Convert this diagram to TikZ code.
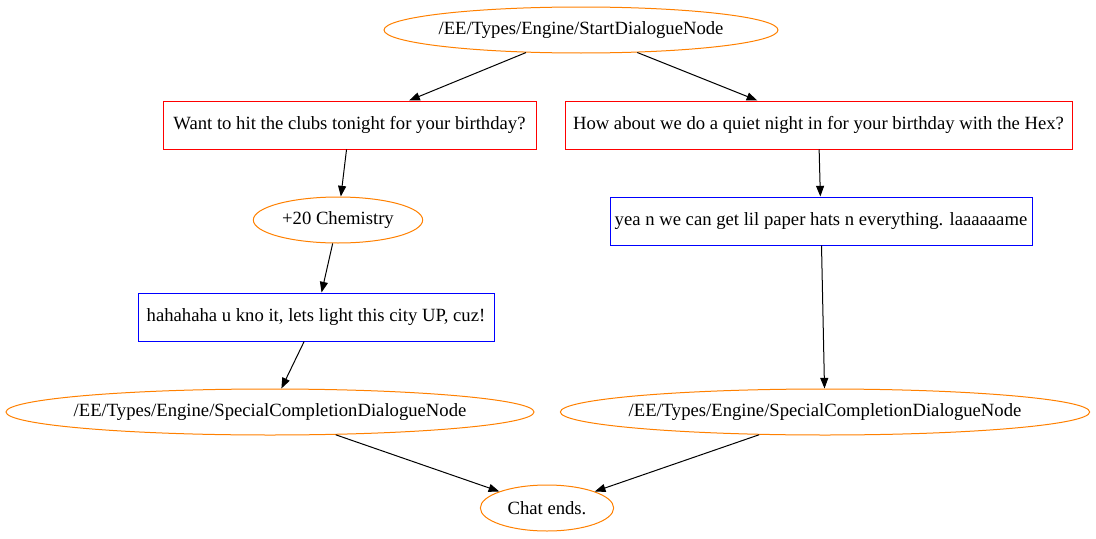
\documentclass[tikz,border=0pt]{standalone}
\usepackage{fontspec}
\setmainfont{Liberation Serif}
\usepackage{tikz}
\usetikzlibrary{arrows.meta,shapes.geometric}

\begin{document}
\begin{tikzpicture}[x=0.75pt,y=-0.75pt,line width=0.75pt,
    font=\fontsize{14}{16}\selectfont,
    oval/.style={draw=orange,ellipse,inner sep=0pt,minimum height=34.5pt,label={center:#1}},
    ask/.style={draw=red,rectangle,inner sep=0pt,minimum height=36pt},
    reply/.style={draw=blue,rectangle,inner sep=0pt,minimum height=36pt},
    edge/.style={-{Triangle[length=8pt,width=6pt]},black}]
                \useasboundingbox (0,0) rectangle (1096,539);
                \node[oval={/EE/Types/Engine/StartDialogueNode},minimum width=295.5pt] (start) at (581,30) {};
                \node[ask,minimum width=279.75pt] (q1) at (349.5,125) {Want to hit the clubs tonight for your birthday?};
                \node[ask,minimum width=380.25pt] (q2) at (818.5,125) {How about we do a quiet night in for your birthday with the Hex?};
                \node[oval={+20 Chemistry},minimum width=127pt] (chem) at (338,220) {};
                \node[reply,minimum width=316.5pt] (r2) at (821,221) {yea n we can get lil paper hats n everything. laaaaaame};
                \node[reply,minimum width=267pt] (r1) at (316,317) {hahahaha u kno it, lets light this city UP, cuz!};
                \node[oval={/EE/Types/Engine/SpecialCompletionDialogueNode},minimum width=396pt] (sc1) at (270,412) {};
                \node[oval={/EE/Types/Engine/SpecialCompletionDialogueNode},minimum width=397pt] (sc2) at (825,412) {};
                \node[oval={Chat ends.},minimum width=100pt] (end) at (547,508) {};
                \draw[edge] (start) -- (q1);
                \draw[edge] (start) -- (q2);
                \draw[edge] (q1) -- (chem);
                \draw[edge] (chem) -- (r1);
                \draw[edge] (r1) -- (sc1);
                \draw[edge] (q2) -- (r2);
                \draw[edge] (r2) -- (sc2);
                \draw[edge] (sc1) -- (end);
                \draw[edge] (sc2) -- (end);
            \end{tikzpicture}
\end{document}
